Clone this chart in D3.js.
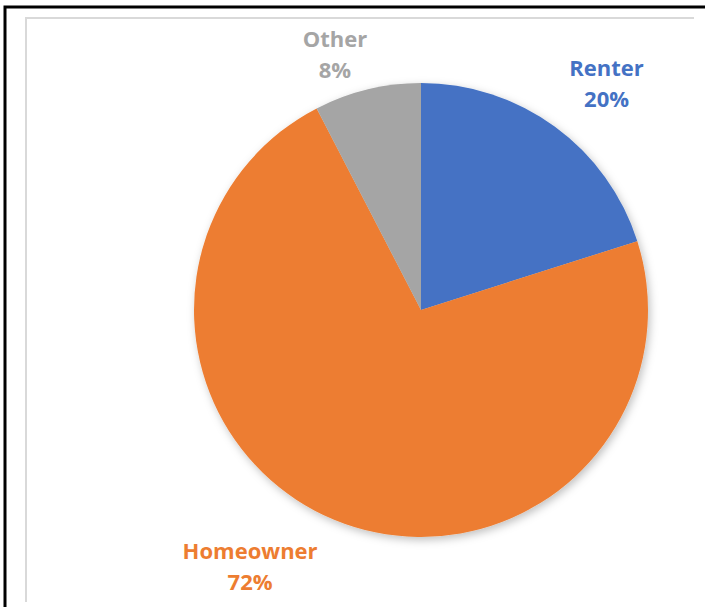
<!DOCTYPE html>
<html>
<head>
<meta charset="utf-8">
<script src="https://cdn.jsdelivr.net/npm/d3@7"></script>
<style>
  body { margin: 0; background: #fff; }
  svg { display: block; }
  .label { font-family: "Open Sans", sans-serif; font-weight: bold; font-size: 22px; }
</style>
</head>
<body>
<div class="container"></div>
<script>
// Slice data, clockwise from 12 o'clock
const categories = ["Renter", "Homeowner", "Other"];
const shares = [20.1, 72.3, 7.6];
const colors = ["#4472C4", "#ED7D31", "#A5A5A5"];

const width = 705,
    height = 607;

const cx = 421, cy = 310, radius = 227;

// Label placement (angle in degrees from north, distance from centre)
const labelAngle = [39.3, 213.7, -18.6];
const labelDist = [293, 308, 270];

let svg = d3.select(".container")
    .append("svg")
    .attr("width", width)
    .attr("height", height);

// soft shadow under the pie
const defs = svg.append("defs");
const filter = defs.append("filter")
    .attr("id", "shadow")
    .attr("x", "-20%").attr("y", "-20%")
    .attr("width", "140%").attr("height", "140%");
filter.append("feDropShadow")
    .attr("dx", 2).attr("dy", 3)
    .attr("stdDeviation", 4)
    .attr("flood-color", "#000")
    .attr("flood-opacity", 0.25);

// chart frame: black outer edge and light grey plot border
svg.append("path")
    .attr("d", `M5,${height} V7 H${width}`)
    .attr("fill", "none")
    .attr("stroke", "#000")
    .attr("stroke-width", 3);

svg.append("path")
    .attr("d", "M26,602 V18 H694")
    .attr("fill", "none")
    .attr("stroke", "#d9d9d9")
    .attr("stroke-width", 2);

const pie = d3.pie().sort(null).value(d => d);
const arc = d3.arc().innerRadius(0).outerRadius(radius);
const arcs = pie(shares);

const g = svg.append("g")
    .attr("transform", `translate(${cx},${cy})`);

g.append("g")
    .attr("filter", "url(#shadow)")
    .selectAll("path")
    .data(arcs)
    .enter()
    .append("path")
    .attr("d", arc)
    .attr("fill", (d, i) => colors[i]);

const pct = v => Math.round(v) + "%";

const labels = g.selectAll("text.label")
    .data(arcs)
    .enter()
    .append("text")
    .attr("class", "label")
    .attr("text-anchor", "middle")
    .attr("fill", (d, i) => colors[i])
    .attr("transform", (d, i) => {
        const a = labelAngle[i] * Math.PI / 180;
        return `translate(${Math.sin(a) * labelDist[i]},${-Math.cos(a) * labelDist[i]})`;
    });

labels.append("tspan")
    .attr("x", 0)
    .attr("y", -7)
    .text((d, i) => categories[i]);

labels.append("tspan")
    .attr("x", 0)
    .attr("y", 24)
    .text(d => pct(d.data));
</script>
</body>
</html>
